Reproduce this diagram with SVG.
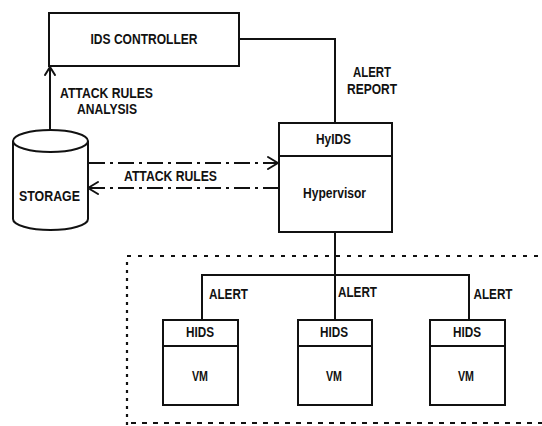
<svg xmlns="http://www.w3.org/2000/svg" width="542" height="426" viewBox="0 0 542 426">
<style>
.box{fill:#fff;stroke:#111;stroke-width:2}
.ln{fill:none;stroke:#111;stroke-width:2}
.dd{fill:none;stroke:#111;stroke-width:2;stroke-dasharray:16 5 3 5}
.arr{fill:none;stroke:#111;stroke-width:2;stroke-linecap:round;stroke-linejoin:round}
text{font-family:"Liberation Sans",Arial,sans-serif;font-weight:bold;font-size:14px;fill:#111;text-anchor:middle}
.bd{fill:none;stroke:#111;stroke-width:2.2}
</style>
<rect width="542" height="426" fill="#fff"/>
<g id="boundary">
<line class="bd" x1="127" y1="256" x2="542" y2="256" stroke-dasharray="4 7"/>
<line class="bd" x1="127" y1="262" x2="127" y2="426" stroke-dasharray="3 5"/>
<line class="bd" x1="131" y1="423" x2="542" y2="423" stroke-dasharray="5 6"/>
</g>
<g id="connectors">
<polyline class="ln" points="239,39 335,39 335,123"/>
<line class="ln" x1="50" y1="130" x2="50" y2="67"/>
<polyline class="arr" points="45,75 50,67 55,75"/>
<line class="dd" x1="89" y1="163" x2="277" y2="163"/>
<polyline class="arr" points="268,157 278,163 268,169"/>
<line class="dd" x1="279" y1="188" x2="90" y2="188"/>
<polyline class="arr" points="98,182 88,188 98,194"/>
<line class="ln" x1="335" y1="232" x2="335" y2="320"/>
<polyline class="ln" points="202,320 202,275 469,275 469,320"/>
<text x="106.5" y="98" textLength="93" lengthAdjust="spacingAndGlyphs">ATTACK RULES</text>
<text x="107" y="114" textLength="60" lengthAdjust="spacingAndGlyphs">ANALYSIS</text>
<text x="372" y="77" textLength="38" lengthAdjust="spacingAndGlyphs">ALERT</text>
<text x="372" y="94" textLength="50" lengthAdjust="spacingAndGlyphs">REPORT</text>
<text x="170.5" y="181" textLength="93" lengthAdjust="spacingAndGlyphs">ATTACK RULES</text>
<text x="228.5" y="299" textLength="39" lengthAdjust="spacingAndGlyphs">ALERT</text>
<text x="357.5" y="297" textLength="39" lengthAdjust="spacingAndGlyphs">ALERT</text>
<text x="493" y="299" textLength="39" lengthAdjust="spacingAndGlyphs">ALERT</text>
</g>
<g id="ids-controller">
<rect class="box" x="49" y="13" width="190" height="53"/>
<text x="144" y="44" textLength="107" lengthAdjust="spacingAndGlyphs">IDS CONTROLLER</text>
</g>
<g id="storage">
<path class="box" d="M13,141 L13,219 A37.5,11 0 0 0 88,219 L88,141"/>
<ellipse class="box" cx="50.5" cy="141" rx="37.5" ry="11"/>
<text x="49.5" y="201" textLength="61" lengthAdjust="spacingAndGlyphs">STORAGE</text>
</g>
<g id="hyids">
<rect class="box" x="279" y="123" width="113" height="109"/>
<line class="ln" x1="279" y1="156" x2="392" y2="156"/>
<text x="333.5" y="144" textLength="35" lengthAdjust="spacingAndGlyphs">HyIDS</text>
<text x="334.5" y="198" textLength="63" lengthAdjust="spacingAndGlyphs">Hypervisor</text>
</g>
<g id="vm1">
<rect class="box" x="163" y="320" width="75" height="85"/>
<line class="ln" x1="163" y1="346" x2="238" y2="346"/>
<text x="200" y="337" textLength="28" lengthAdjust="spacingAndGlyphs">HIDS</text>
<text x="200" y="381" textLength="16" lengthAdjust="spacingAndGlyphs">VM</text>
</g>
<g id="vm2">
<rect class="box" x="298" y="320" width="74" height="85"/>
<line class="ln" x1="298" y1="346" x2="372" y2="346"/>
<text x="334" y="337" textLength="28" lengthAdjust="spacingAndGlyphs">HIDS</text>
<text x="334" y="381" textLength="16" lengthAdjust="spacingAndGlyphs">VM</text>
</g>
<g id="vm3">
<rect class="box" x="430" y="320" width="75" height="85"/>
<line class="ln" x1="430" y1="346" x2="505" y2="346"/>
<text x="467" y="337" textLength="28" lengthAdjust="spacingAndGlyphs">HIDS</text>
<text x="466" y="381" textLength="16" lengthAdjust="spacingAndGlyphs">VM</text>
</g>
</svg>
